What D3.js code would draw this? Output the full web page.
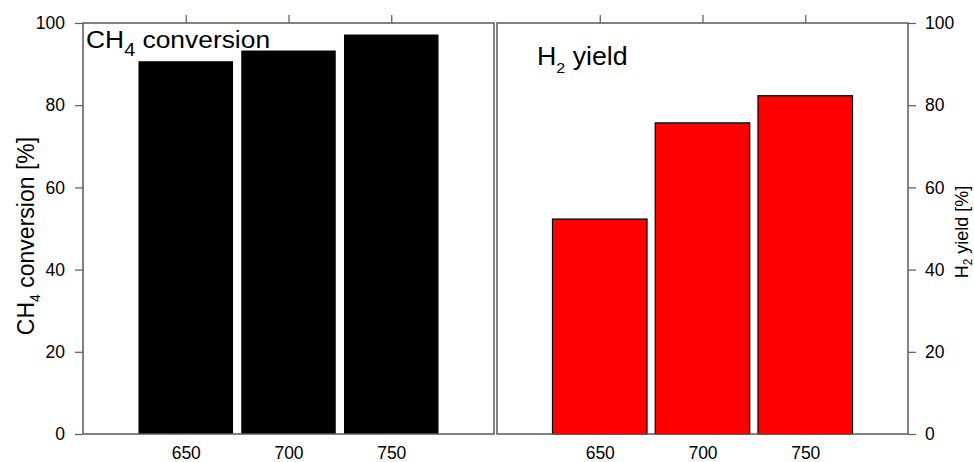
<!DOCTYPE html>
<html>
<head>
<meta charset="utf-8">
<script src="https://cdn.jsdelivr.net/npm/d3@7"></script>
<style>
  html, body { margin: 0; padding: 0; background: #fff; }
  svg { display: block; font-family: "Liberation Sans", Arial, sans-serif; }
</style>
</head>
<body>
<svg id="chart" width="974" height="462"></svg>
<script>
// Reaction temperatures (°C)
const temperatures = [650, 700, 750];
// CH4 conversion [%] per temperature
const ch4Conversion = [90.7, 93.3, 97.2];
// H2 yield [%] per temperature
const h2Yield = [52.3, 75.7, 82.3];
// Shared y ticks
const yTicks = [0, 20, 40, 60, 80, 100];

const svg = d3.select("#chart");
const frameColor = "#5a5a5a";
const plotTop = 23, plotBottom = 434;
const barWidthUnits = 46;
const fontFam = "Liberation Sans, Arial, sans-serif";
const tickFont = 17.5;

const y = d3.scaleLinear().domain([0, 100]).range([plotBottom, plotTop]);

function panel(x0, x1, values, fill, stroke) {
  const x = d3.scaleLinear().domain([600, 800]).range([x0, x1]);
  const g = svg.append("g");

  g.selectAll("rect.bar").data(values).join("rect")
    .attr("class", "bar")
    .attr("x", (d, i) => x(temperatures[i] - barWidthUnits / 2))
    .attr("width", (d, i) => x(temperatures[i] + barWidthUnits / 2) - x(temperatures[i] - barWidthUnits / 2))
    .attr("y", d => y(d))
    .attr("height", d => y(0) - y(d))
    .attr("fill", fill)
    .attr("stroke", stroke)
    .attr("stroke-width", stroke === "none" ? 0 : 1.2);

  // frame
  g.append("rect")
    .attr("x", x0).attr("y", plotTop)
    .attr("width", x1 - x0).attr("height", plotBottom - plotTop)
    .attr("fill", "none").attr("stroke", frameColor).attr("stroke-width", 1.5);

  // top ticks pointing outward
  const topAxis = d3.axisTop(x).tickValues(temperatures).tickSize(8).tickFormat("");
  g.append("g").attr("transform", `translate(0,${plotTop})`).call(topAxis)
    .call(a => a.select(".domain").remove())
    .call(a => a.selectAll("line").attr("stroke", frameColor).attr("stroke-width", 1.2));

  // bottom labels without ticks
  const bottomAxis = d3.axisBottom(x).tickValues(temperatures).tickSize(0).tickPadding(13);
  g.append("g").attr("transform", `translate(0,${plotBottom})`).call(bottomAxis)
    .call(a => a.select(".domain").remove())
    .call(a => a.selectAll("text").attr("font-size", tickFont).attr("fill", "#000")
      .attr("font-family", fontFam));
  return x;
}

panel(83, 494, ch4Conversion, "#000", "none");
panel(497, 908, h2Yield, "#ff0000", "#000");

// left y axis
svg.append("g").attr("transform", `translate(83,0)`)
  .call(d3.axisLeft(y).tickValues(yTicks).tickSize(8).tickPadding(10))
  .call(a => a.select(".domain").remove())
  .call(a => a.selectAll("line").attr("stroke", frameColor).attr("stroke-width", 1.2))
  .call(a => a.selectAll("text").attr("font-size", tickFont).attr("fill", "#000")
    .attr("font-family", fontFam));

// right y axis
svg.append("g").attr("transform", `translate(908,0)`)
  .call(d3.axisRight(y).tickValues(yTicks).tickSize(8).tickPadding(9))
  .call(a => a.select(".domain").remove())
  .call(a => a.selectAll("line").attr("stroke", frameColor).attr("stroke-width", 1.2))
  .call(a => a.selectAll("text").attr("font-size", tickFont).attr("fill", "#000")
    .attr("font-family", fontFam));

// panel titles
const t1 = svg.append("text").attr("transform", "translate(86,48) scale(1.1,1)").attr("font-size", 24);
t1.append("tspan").text("CH");
t1.append("tspan").attr("font-size", 18).attr("dy", 8).text("4");
t1.append("tspan").attr("dy", -8).text(" conversion");

const t2 = svg.append("text").attr("transform", "translate(537,65) scale(1.07,1)").attr("font-size", 25);
t2.append("tspan").text("H");
t2.append("tspan").attr("font-size", 15).attr("dy", 8).text("2");
t2.append("tspan").attr("dy", -8).text(" yield");

// axis titles
const l1 = svg.append("text")
  .attr("transform", `translate(34,236) rotate(-90)`)
  .attr("text-anchor", "middle").attr("font-size", 23);
l1.append("tspan").text("CH");
l1.append("tspan").attr("font-size", 14).attr("dy", 6).text("4");
l1.append("tspan").attr("dy", -6).text(" conversion [%]");

const l2 = svg.append("text")
  .attr("transform", `translate(968,232) rotate(-90)`)
  .attr("text-anchor", "middle").attr("font-size", 18);
l2.append("tspan").text("H");
l2.append("tspan").attr("font-size", 12).attr("dy", 4).text("2");
l2.append("tspan").attr("dy", -4).text(" yield [%]");
</script>
</body>
</html>
